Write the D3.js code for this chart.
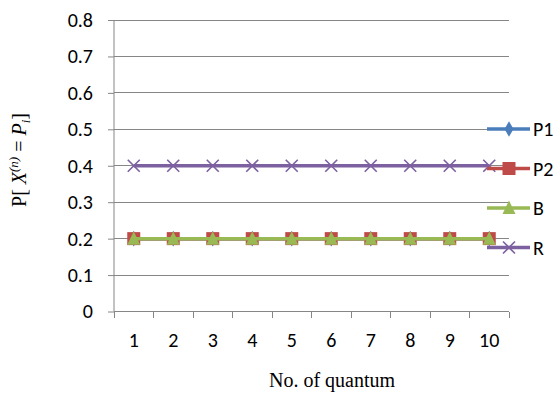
<!DOCTYPE html>
<html><head><meta charset="utf-8">
<script src="https://cdn.jsdelivr.net/npm/d3@7"></script>
<style>body{margin:0;background:#fff}svg{display:block}</style>
</head><body>
<svg id="c" width="555" height="393"></svg>
<script>
const categories = [1,2,3,4,5,6,7,8,9,10];
const P1 = [0.2,0.2,0.2,0.2,0.2,0.2,0.2,0.2,0.2,0.2];
const P2 = [0.2,0.2,0.2,0.2,0.2,0.2,0.2,0.2,0.2,0.2];
const B  = [0.2,0.2,0.2,0.2,0.2,0.2,0.2,0.2,0.2,0.2];
const R  = [0.4,0.4,0.4,0.4,0.4,0.4,0.4,0.4,0.4,0.4];
const yTicks = [0,0.1,0.2,0.3,0.4,0.5,0.6,0.7,0.8];
const seriesNames = ["P1","P2","B","R"];
const seriesColors = ["#4A7EBB","#BE4B48","#98B954","#7D60A0"];
const seriesMarkers = ["diamond","square","triangle","x"];
const seriesData = [P1,P2,B,R];

const svg = d3.select("#c");
const L=114, Rr=509, T=20, Bm=311.5;
const x = d3.scaleBand().domain(categories).range([L,Rr]);
const y = d3.scaleLinear().domain([0,0.8]).range([Bm,T]);
const grey = "#868686";
const sans = "Calibri, Carlito, 'Liberation Sans', Arial, sans-serif";
const serif = "'Liberation Serif','Times New Roman',serif";

// gridlines
svg.append("g").selectAll("line").data(yTicks.filter(d=>d>0)).join("line")
  .attr("x1",L).attr("x2",Rr).attr("y1",d=>y(d)).attr("y2",d=>y(d))
  .attr("stroke",grey).attr("stroke-width",1).attr("shape-rendering","crispEdges");

// y axis
const ya = svg.append("g").attr("transform",`translate(${L},0)`)
  .call(d3.axisLeft(y).tickValues(yTicks).tickFormat(d=>d===0?"0":d3.format(".1f")(d)).tickSize(6).tickPadding(15));
ya.select(".domain").attr("stroke",grey).attr("d",`M0,${T}V${Bm}`);
ya.selectAll(".tick line").attr("stroke",grey);
ya.selectAll("text").attr("font-family",sans).attr("font-size",20).attr("fill","#000");

// x axis
const xa = svg.append("g").attr("transform",`translate(0,${Bm})`)
  .call(d3.axisBottom(x).tickSize(0).tickPadding(21));
xa.select(".domain").attr("stroke",grey).attr("d",`M${L},0H${Rr}`);
xa.selectAll("text").attr("font-family",sans).attr("font-size",20).attr("fill","#000");
const bounds = categories.map(c=>x(c)).concat([x(categories[categories.length-1])+x.bandwidth()]);
svg.append("g").selectAll("line").data(bounds).join("line")
  .attr("x1",d=>d).attr("x2",d=>d).attr("y1",Bm).attr("y2",Bm+6)
  .attr("stroke",grey).attr("shape-rendering","crispEdges");

function marker(g, type, color, cx, cy){
  if(type==="diamond"){
    g.append("path").attr("d",d3.symbol(d3.symbolDiamond,70)()).attr("transform",`translate(${cx},${cy})`).attr("fill",color);
  } else if(type==="square"){
    g.append("rect").attr("x",cx-6.5).attr("y",cy-6.5).attr("width",13).attr("height",13).attr("fill",color);
  } else if(type==="triangle"){
    g.append("path").attr("d",`M${cx},${cy-7.5}L${cx+6.5},${cy+6}L${cx-6.5},${cy+6}Z`).attr("fill",color);
  } else {
    g.append("path").attr("d",`M${cx-6},${cy-6}L${cx+6},${cy+6}M${cx-6},${cy+6}L${cx+6},${cy-6}`).attr("stroke",color).attr("stroke-width",1.6).attr("fill","none");
  }
}

const cx = c => x(c)+x.bandwidth()/2;
const line = d3.line().x((d,i)=>cx(categories[i])).y(d=>y(d));
seriesData.forEach((data,si)=>{
  const g = svg.append("g");
  g.append("path").datum(data).attr("d",line).attr("fill","none")
    .attr("stroke",seriesColors[si]).attr("stroke-width",3.5);
  data.forEach((v,i)=>marker(g, seriesMarkers[si], seriesColors[si], cx(categories[i]), y(v)));
});

// legend
const legY = [129,168.5,208,247.5];
seriesNames.forEach((n,i)=>{
  const g = svg.append("g");
  g.append("line").attr("x1",487).attr("x2",530).attr("y1",legY[i]).attr("y2",legY[i])
    .attr("stroke",seriesColors[i]).attr("stroke-width",3.5);
  marker(g, seriesMarkers[i], seriesColors[i], 509, legY[i]);
  g.append("text").attr("x",533).attr("y",legY[i]+7).text(n)
    .attr("font-family",sans).attr("font-size",20).attr("fill","#000");
});

// axis titles
svg.append("text").attr("x",332).attr("y",387).attr("text-anchor","middle")
  .attr("font-family",serif).attr("font-size",20).text("No. of quantum");

const yt = svg.append("text").attr("transform","translate(26,160) rotate(-90)").attr("text-anchor","middle")
  .attr("font-family",serif).attr("font-size",20);
yt.append("tspan").text("P[ ");
yt.append("tspan").attr("font-style","italic").text("X");
yt.append("tspan").attr("font-style","italic").attr("font-size",13).attr("dy",-8).text("(n)");
yt.append("tspan").attr("dy",8).text(" = ");
yt.append("tspan").attr("font-style","italic").text("P");
yt.append("tspan").attr("font-style","italic").attr("font-size",13).attr("dy",4).text("i");
yt.append("tspan").attr("dy",-4).text("]");
</script>
</body></html>
